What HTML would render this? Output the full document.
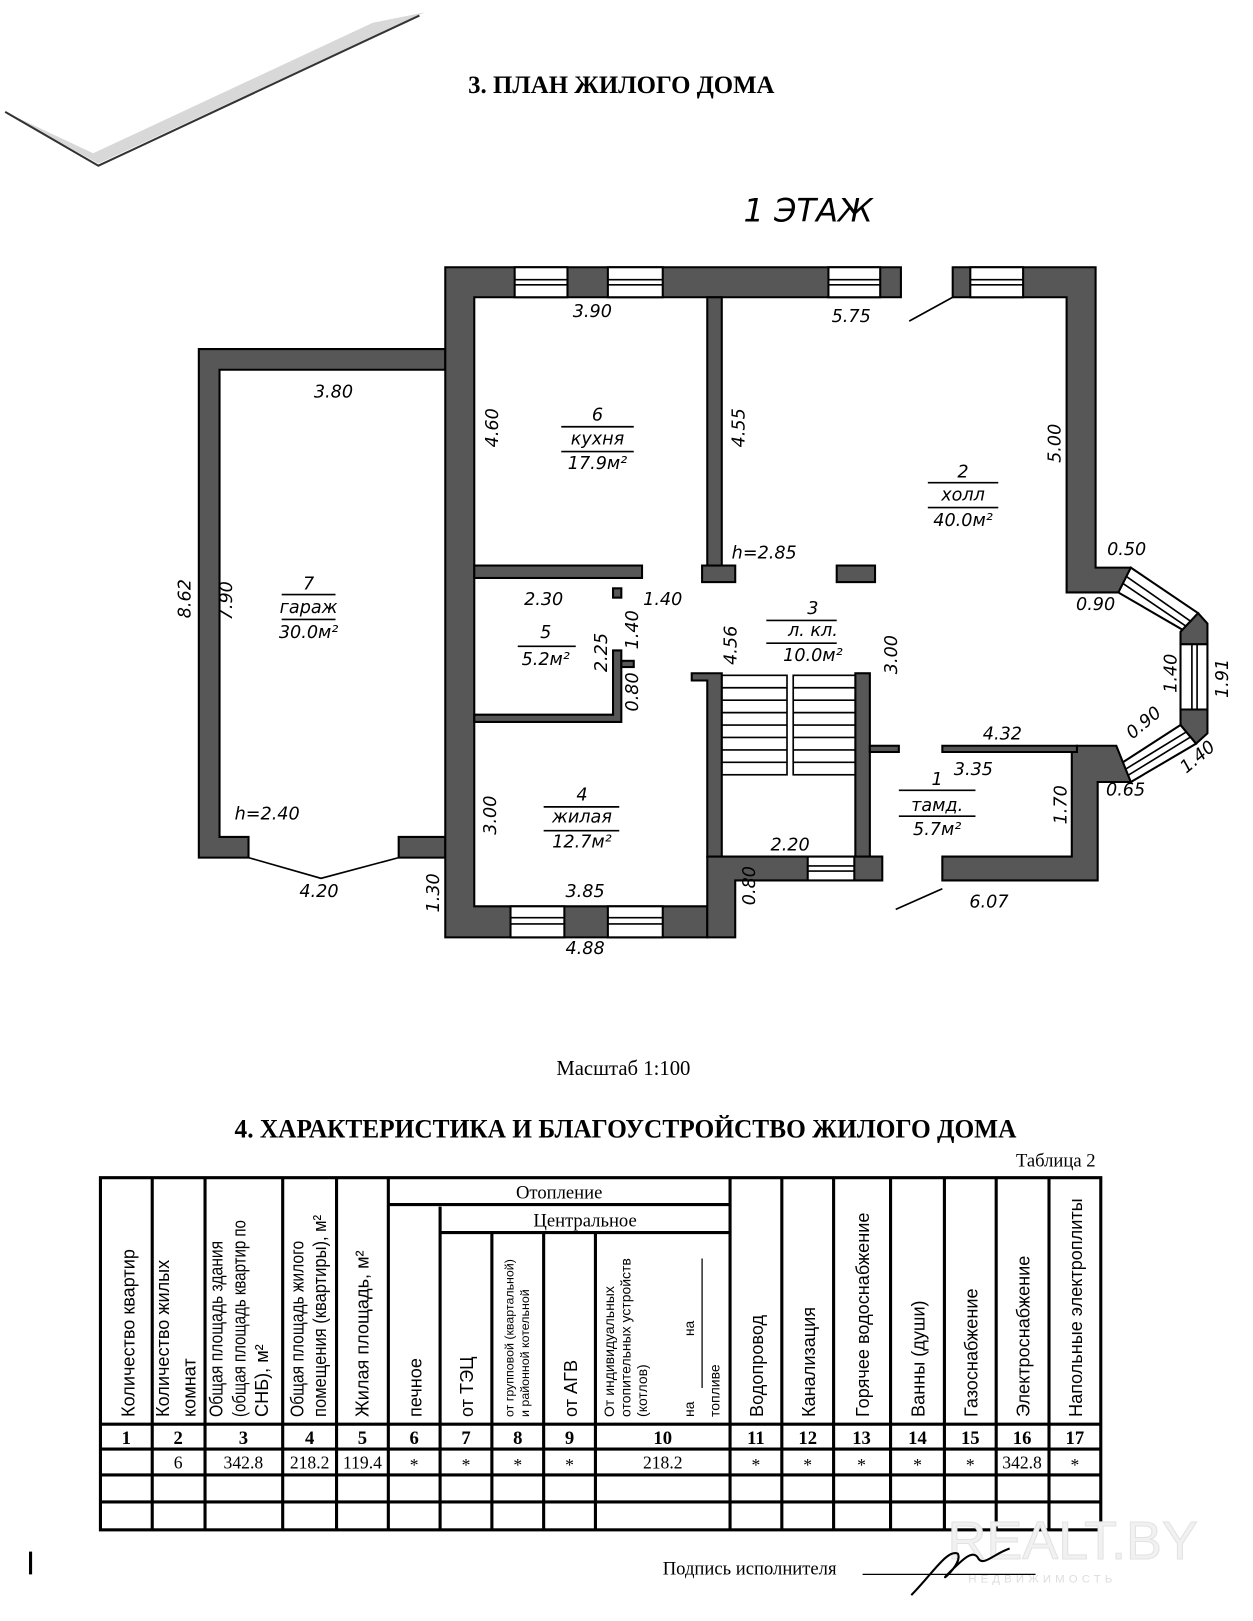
<!DOCTYPE html>
<html><head><meta charset="utf-8"><style>
html,body{margin:0;padding:0;background:#fff;}
svg{display:block;}
.t{font-family:"DejaVu Sans","Liberation Sans",sans-serif;font-style:italic;font-size:17px;fill:#000;}
.h{font-family:"Liberation Serif",serif;font-weight:bold;font-size:24px;fill:#000;}
.s{font-family:"Liberation Serif",serif;font-size:20px;fill:#000;}
.th{font-family:"Liberation Sans",sans-serif;font-size:17.5px;fill:#000;}
.ts{font-family:"Liberation Sans",sans-serif;font-size:12px;fill:#000;}
.w{fill:#575757;stroke:#000;stroke-width:2;}
.win{fill:#fff;stroke:#000;stroke-width:2;}
.ln{stroke:#000;stroke-width:1.6;fill:none;}
</style></head><body>
<svg width="1253" height="1621" viewBox="0 0 1210 1565" preserveAspectRatio="none" xmlns="http://www.w3.org/2000/svg">
<!-- scan artifact -->
<path d="M5 108 L95 158 L410 12 L360 22 L90 148 Z" fill="#d8d8d8"/>
<path d="M5 108 L95 160 L405 15" stroke="#333" stroke-width="2" fill="none"/>
<text x="600" y="90" text-anchor="middle" class="h">3. ПЛАН ЖИЛОГО ДОМА</text>
<text x="718" y="214" class="t" style="font-size:31px;font-style:italic">1 ЭТАЖ</text>

<!-- garage -->
<path class="w" d="M192 337 H430 V357 H212 V808 H240 V828 H192 Z"/>
<path class="w" d="M385 808 H430 V828 H385 Z"/>
<path class="ln" d="M240 828 L310 848 L385 828"/>

<!-- main left wall -->
<path class="w" d="M430 258 H870 V287 H458 V875 H683 V905 H430 Z"/>
<rect class="win" x="497" y="258" width="51" height="29"/><path class="ln" d="M497 270 H548 M497 275 H548"/>
<rect class="win" x="587" y="258" width="53" height="29"/><path class="ln" d="M587 270 H640 M587 275 H640"/>
<rect class="win" x="800" y="258" width="50" height="29"/><path class="ln" d="M800 270 H850 M800 275 H850"/>
<path class="w" d="M920 258 H1058 V548 H1092 L1100 560 L1085 572 H1030 V287 H920 Z"/>
<rect class="win" x="937" y="258" width="51" height="29"/><path class="ln" d="M937 270 H988 M937 275 H988"/>
<path class="ln" d="M878 310 L920 287"/>
<!-- bay -->
<path class="win" d="M1092 548 L1157 592 L1142 608 L1080 572 Z"/>
<path class="ln" d="M1087 556 L1150 600 M1084 563 L1146 605"/>
<path class="w" d="M1157 592 L1166 602 V622 H1140 V610 Z"/>
<rect class="win" x="1140" y="622" width="26" height="63"/><path class="ln" d="M1151 622 V685 M1156 622 V685"/>
<path class="w" d="M1140 685 H1166 V708 L1155 718 L1140 700 Z"/>
<path class="win" d="M1140 700 L1155 718 L1092 755 L1078 740 Z"/>
<path class="ln" d="M1145 707 L1083 745 M1149 712 L1087 750"/>
<path class="w" d="M1040 720 H1078 L1092 755 H1060 V850 H910 V827 H1035 V726 H1040 Z"/>
<path class="w" d="M910 720 H1040 V726 H910 Z"/>
<path class="ln" d="M865 878 L910 858"/>

<rect class="w" x="683" y="287" width="14" height="273"/>
<rect class="w" x="458" y="546" width="162" height="12"/>
<rect class="w" x="678" y="546" width="32" height="16"/>
<rect class="w" x="808" y="546" width="37" height="16"/>
<rect class="w" x="592" y="568" width="8" height="9"/>
<path class="w" d="M592 628 H600 V697 H458 V690 H592 Z"/>
<rect class="w" x="600" y="638" width="12" height="6"/>
<path class="w" d="M668 650 H697 V827 H683 V657 H668 Z"/>
<rect class="w" x="826" y="650" width="14" height="178"/>
<rect class="w" x="840" y="720" width="28" height="6"/>
<g class="ln">
<rect x="697" y="652" width="63" height="96"/><rect x="766" y="652" width="60" height="96"/>
<path d="M697 664 H760 M697 676 H760 M697 688 H760 M697 700 H760 M697 712 H760 M697 724 H760 M697 736 H760 M766 664 H826 M766 676 H826 M766 688 H826 M766 700 H826 M766 712 H826 M766 724 H826 M766 736 H826"/>
</g>
<path class="w" d="M683 827 H852 V850 H710 V905 H683 Z"/>
<rect class="win" x="780" y="827" width="45" height="23"/><path class="ln" d="M780 836 H825 M780 841 H825"/>
<rect class="win" x="493" y="875" width="52" height="30"/><path class="ln" d="M493 886 H545 M493 892 H545"/>
<rect class="win" x="587" y="875" width="53" height="30"/><path class="ln" d="M587 886 H640 M587 892 H640"/>

<g class="t">
<text x="572" y="306" text-anchor="middle">3.90</text>
<text x="822" y="311" text-anchor="middle">5.75</text>
<text x="322" y="384" text-anchor="middle">3.80</text>
<text transform="translate(481,413) rotate(-90)" text-anchor="middle">4.60</text>
<text transform="translate(719,413) rotate(-90)" text-anchor="middle">4.55</text>
<text transform="translate(1024,428) rotate(-90)" text-anchor="middle">5.00</text>
<text transform="translate(184,578) rotate(-90)" text-anchor="middle">8.62</text>
<text transform="translate(224,580) rotate(-90)" text-anchor="middle">7.90</text>
<text x="298" y="569" text-anchor="middle">7</text><text x="298" y="592" text-anchor="middle">гараж</text><text x="298" y="616" text-anchor="middle">30.0м²</text>
<text x="577" y="406" text-anchor="middle">6</text><text x="577" y="429" text-anchor="middle">кухня</text><text x="577" y="453" text-anchor="middle">17.9м²</text>
<text x="930" y="461" text-anchor="middle">2</text><text x="930" y="483" text-anchor="middle">холл</text><text x="930" y="508" text-anchor="middle">40.0м²</text>
<text x="738" y="539" text-anchor="middle">h=2.85</text>
<text x="1088" y="536" text-anchor="middle">0.50</text>
<text x="1058" y="589" text-anchor="middle">0.90</text>
<text x="525" y="584" text-anchor="middle">2.30</text>
<text x="640" y="584" text-anchor="middle">1.40</text>
<text transform="translate(616,608) rotate(-90)" text-anchor="middle">1.40</text>
<text transform="translate(586,630) rotate(-90)" text-anchor="middle">2.25</text>
<text transform="translate(616,668) rotate(-90)" text-anchor="middle">0.80</text>
<text x="527" y="616" text-anchor="middle">5</text><text x="527" y="642" text-anchor="middle">5.2м²</text>
<text x="785" y="593" text-anchor="middle">3</text><text x="785" y="614" text-anchor="middle">л. кл.</text><text x="785" y="638" text-anchor="middle">10.0м²</text>
<text transform="translate(711,623) rotate(-90)" text-anchor="middle">4.56</text>
<text transform="translate(866,632) rotate(-90)" text-anchor="middle">3.00</text>
<text transform="translate(1136,650) rotate(-90)" text-anchor="middle">1.40</text>
<text transform="translate(1186,655) rotate(-90)" text-anchor="middle">1.91</text>
<text transform="translate(1108,702) rotate(-40)" text-anchor="middle">0.90</text>
<text transform="translate(1160,735) rotate(-40)" text-anchor="middle">1.40</text>
<text x="1087" y="768" text-anchor="middle">0.65</text>
<text x="968" y="714" text-anchor="middle">4.32</text>
<text x="940" y="748" text-anchor="middle">3.35</text>
<text x="905" y="758" text-anchor="middle">1</text><text x="905" y="783" text-anchor="middle">тамд.</text><text x="905" y="806" text-anchor="middle">5.7м²</text>
<text transform="translate(1030,777) rotate(-90)" text-anchor="middle">1.70</text>
<text x="258" y="791" text-anchor="middle">h=2.40</text>
<text transform="translate(479,787) rotate(-90)" text-anchor="middle">3.00</text>
<text x="562" y="773" text-anchor="middle">4</text><text x="562" y="794" text-anchor="middle">жилая</text><text x="562" y="818" text-anchor="middle">12.7м²</text>
<text x="763" y="821" text-anchor="middle">2.20</text>
<text x="565" y="866" text-anchor="middle">3.85</text>
<text x="308" y="866" text-anchor="middle">4.20</text>
<text transform="translate(424,862) rotate(-90)" text-anchor="middle">1.30</text>
<text transform="translate(729,855) rotate(-90)" text-anchor="middle">0.80</text>
<text x="955" y="876" text-anchor="middle">6.07</text>
<text x="565" y="921" text-anchor="middle">4.88</text>
</g>
<g class="ln" stroke-width="1.3">
<path d="M272 574 H324 M272 598 H324 M542 412 H612 M542 436 H612 M896 466 H964 M896 490 H964 M500 624 H556 M740 599 H808 M740 621 H808 M868 763 H942 M868 788 H942 M525 779 H598 M525 802 H598"/>
</g>

<text x="602" y="1038" text-anchor="middle" class="s">Масштаб  1:100</text>
<text x="604" y="1098" text-anchor="middle" class="h" style="font-size:25px" textLength="755" lengthAdjust="spacingAndGlyphs">4. ХАРАКТЕРИСТИКА И БЛАГОУСТРОЙСТВО ЖИЛОГО ДОМА</text>
<text x="1058" y="1126" text-anchor="end" class="s" style="font-size:18px">Таблица 2</text>

<g stroke="#000" stroke-width="3" fill="none">
<rect x="97" y="1137" width="966" height="340"/>
<path d="M147 1137 V1477 M198 1137 V1477 M273 1137 V1477 M325 1137 V1477 M375 1137 V1477 M705 1137 V1477 M755 1137 V1477 M805 1137 V1477 M860 1137 V1477 M912 1137 V1477 M962 1137 V1477 M1013 1137 V1477"/>
<path d="M425 1165 V1477 M475 1190 V1477 M525 1190 V1477 M575 1190 V1477"/>
<path d="M375 1163 H705 M425 1190 H705"/>
<path d="M97 1375 H1063 M97 1399 H1063 M97 1424 H1063 M97 1450 H1063"/>
</g>
<g class="s" style="font-size:18px;font-weight:bold" text-anchor="middle">
<text x="540" y="1157" style="font-weight:normal">Отопление</text><text x="565" y="1184" style="font-weight:normal">Центральное</text>
<text x="122" y="1394">1</text><text x="172" y="1394">2</text><text x="235" y="1394">3</text><text x="299" y="1394">4</text><text x="350" y="1394">5</text><text x="400" y="1394">6</text><text x="450" y="1394">7</text><text x="500" y="1394">8</text><text x="550" y="1394">9</text><text x="640" y="1394">10</text><text x="730" y="1394">11</text><text x="780" y="1394">12</text><text x="832" y="1394">13</text><text x="886" y="1394">14</text><text x="937" y="1394">15</text><text x="987" y="1394">16</text><text x="1038" y="1394">17</text>
</g>
<g class="s" style="font-size:17px" text-anchor="middle">
<text x="172" y="1418">6</text><text x="235" y="1418">342.8</text><text x="299" y="1418">218.2</text><text x="350" y="1418">119.4</text><text x="400" y="1420">*</text><text x="450" y="1420">*</text><text x="500" y="1420">*</text><text x="550" y="1420">*</text><text x="640" y="1418">218.2</text><text x="730" y="1420">*</text><text x="780" y="1420">*</text><text x="832" y="1420">*</text><text x="886" y="1420">*</text><text x="937" y="1420">*</text><text x="987" y="1418">342.8</text><text x="1038" y="1420">*</text>
</g>
<g class="th">
<text transform="translate(130,1368) rotate(-90)">Количество квартир</text>
<text transform="translate(163,1368) rotate(-90)">Количество жилых</text>
<text transform="translate(189,1368) rotate(-90)">комнат</text>
<text transform="translate(215,1368) rotate(-90)" textLength="170" lengthAdjust="spacingAndGlyphs">Общая площадь здания</text>
<text transform="translate(237,1368) rotate(-90)" textLength="190" lengthAdjust="spacingAndGlyphs">(общая площадь квартир по</text>
<text transform="translate(259,1368) rotate(-90)">СНБ), м²</text>
<text transform="translate(293,1368) rotate(-90)" textLength="170" lengthAdjust="spacingAndGlyphs">Общая площадь жилого</text>
<text transform="translate(315,1368) rotate(-90)" textLength="195" lengthAdjust="spacingAndGlyphs">помещения (квартиры), м²</text>
<text transform="translate(356,1368) rotate(-90)">Жилая площадь, м²</text>
<text transform="translate(407,1368) rotate(-90)">печное</text>
<text transform="translate(457,1368) rotate(-90)">от ТЭЦ</text>
<text class="ts" transform="translate(496,1368) rotate(-90)">от групповой (квартальной)</text>
<text class="ts" transform="translate(511,1368) rotate(-90)">и районной котельной</text>
<text transform="translate(557,1368) rotate(-90)">от АГВ</text>
<text class="ts" style="font-size:13.5px" transform="translate(593,1368) rotate(-90)">От индивидуальных</text>
<text class="ts" style="font-size:13.5px" transform="translate(609,1368) rotate(-90)">отопительных устройств</text>
<text class="ts" style="font-size:13.5px" transform="translate(625,1368) rotate(-90)">(котлов)</text>
<text class="ts" style="font-size:13.5px" transform="translate(670,1368) rotate(-90)">на</text>
<text class="ts" style="font-size:13.5px" transform="translate(670,1290) rotate(-90)">на</text>
<text class="ts" style="font-size:13.5px" transform="translate(695,1368) rotate(-90)">топливе</text>
<text transform="translate(737,1368) rotate(-90)">Водопровод</text>
<text transform="translate(787,1368) rotate(-90)">Канализация</text>
<text transform="translate(839,1368) rotate(-90)">Горячее водоснабжение</text>
<text transform="translate(893,1368) rotate(-90)">Ванны (души)</text>
<text transform="translate(944,1368) rotate(-90)">Газоснабжение</text>
<text transform="translate(994,1368) rotate(-90)">Электроснабжение</text>
<text transform="translate(1045,1368) rotate(-90)">Напольные электроплиты</text>
</g>
<path d="M678 1340 V1215" stroke="#000" stroke-width="1.2"/>

<text x="915" y="1505" style="font-family:'Liberation Sans',sans-serif;font-size:52px;fill:#f1f1f1;stroke:#e2e2e2;stroke-width:1">REALT.BY</text>
<text x="935" y="1528" style="font-family:'Liberation Sans',sans-serif;font-size:11px;fill:#ddd;letter-spacing:4px">НЕДВИЖИМОСТЬ</text>
<rect x="28" y="1498" width="3" height="22" fill="#000"/>
<text x="640" y="1520" class="s" style="font-size:18px">Подпись исполнителя</text>
<path d="M833 1520 H1000" stroke="#000" stroke-width="1.2"/>
<path d="M880 1540 C900 1520 915 1495 925 1500 C930 1510 905 1530 915 1520 C930 1505 940 1495 945 1505 C950 1512 960 1500 975 1495" stroke="#000" stroke-width="2" fill="none"/>
</svg>
</body></html>
